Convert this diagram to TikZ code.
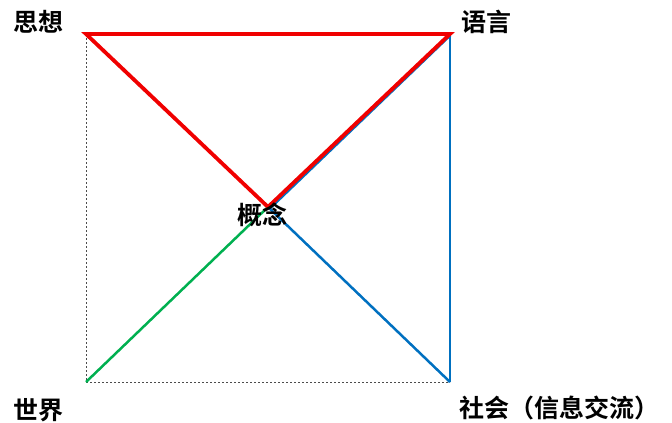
\documentclass[tikz,border=0pt]{standalone}
\usepackage{fontspec}
\newfontfamily\cjk{Noto Sans CJK SC}[BoldFont={Noto Sans CJK SC Bold}]
\begin{document}
\begin{tikzpicture}[x=1pt,y=-1pt,
  lbl/.style={inner sep=0pt,font=\cjk\bfseries\fontsize{25}{25}\selectfont},
  redl/.style={draw={rgb,255:red,240;green,0;blue,0},line width=3.8pt},
  bluel/.style={draw={rgb,255:red,0;green,112;blue,192},line width=2.5pt},
  greenl/.style={draw={rgb,255:red,0;green,176;blue,80},line width=2.5pt},
  dotl/.style={draw=black!70,line width=0.8pt,dash pattern=on 2pt off 2pt}]
\useasboundingbox (0,0) rectangle (672,423);
\coordinate (TL) at (86,34);
\coordinate (TR) at (450,34);
\coordinate (BL) at (86,382);
\coordinate (BR) at (450,382);
\coordinate (C) at (268,207);
\draw[dotl] (TL) -- (BL);
\draw[dotl] (BL) -- (BR);
\draw[greenl] (BL) -- (C);
\draw[bluel] (C) -- (BR);
\draw[bluel] (TR) -- (BR);
\draw[bluel] ([xshift=1.6pt,yshift=-1.7pt]C) -- ([xshift=0.4pt,yshift=-1.2pt]TR);
\draw[redl,line join=miter] (C) -- (TL) -- (TR) -- cycle;
\node[lbl] (sx) at (38,22) {思想};
\node[lbl] (yy) at (486,22) {语言};
\node[lbl] (gn) at (262,215) {概念};
\node[lbl] (sj) at (38,410) {世界};
\node[lbl,anchor=west] (sh) at (459,408) {社会（信息交流）};
\end{tikzpicture}
\end{document}
